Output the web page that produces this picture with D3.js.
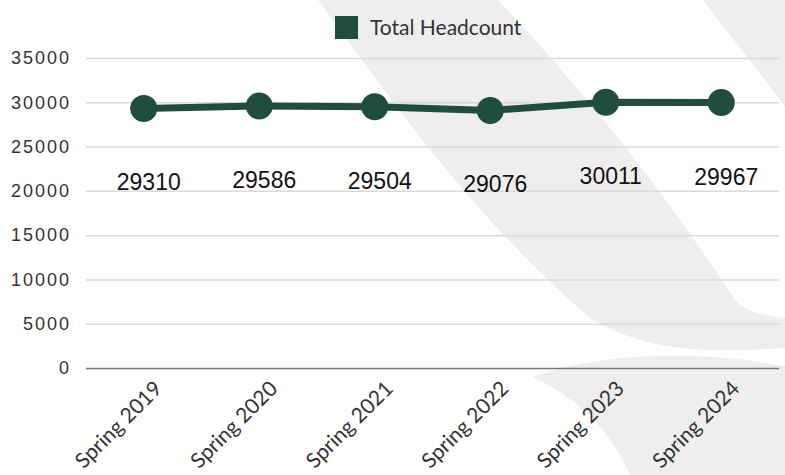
<!DOCTYPE html>
<html>
<head>
<meta charset="utf-8">
<script src="https://cdn.jsdelivr.net/npm/d3@7"></script>
<style>
    html, body { margin: 0; padding: 0; background: #ffffff; }
    svg { display: block; }
</style>
</head>
<body>
<div id="chart"></div>
<script>
var categories = ["Spring 2019", "Spring 2020", "Spring 2021", "Spring 2022", "Spring 2023", "Spring 2024"];
var headcount = [29310, 29586, 29504, 29076, 30011, 29967];
var yTicks = [0, 5000, 10000, 15000, 20000, 25000, 30000, 35000];
var seriesName = "Total Headcount";

var width = 785, height = 475;
var margin = { top: 58, right: 6, bottom: 107, left: 86 };
var green = "#1f4e3d";

var svg = d3.select("#chart").append("svg")
    .attr("width", width)
    .attr("height", height);

// decorative background swooshes
var swooshes = [
    "M318,0 C385,90 465,210 590,318 C650,355 720,352 785,348 L785,318 C765,316 745,312 735,300 C715,270 640,150 498,0 Z",
    "M703,0 L785,0 L785,107 C760,72 730,36 703,0 Z",
    "M533,377 C600,352 700,350 785,366 L785,475 L630,475 C610,430 580,400 533,377 Z"
];
svg.append("g").selectAll("path")
    .data(swooshes)
  .enter()
    .append("path")
    .attr("d", function(d) { return d; })
    .attr("fill", "#eeeeee");

var x = d3.scalePoint()
    .domain(categories)
    .range([margin.left, width - margin.right])
    .padding(0.5);

var y = d3.scaleLinear()
    .domain([0, 35000])
    .range([height - margin.bottom, margin.top]);

var plotWidth = width - margin.right - margin.left;

// y axis with grid lines
var yAxis = svg.append("g")
    .attr("transform", "translate(" + margin.left + ",0)")
    .call(d3.axisLeft(y)
        .tickValues(yTicks)
        .tickSize(-plotWidth)
        .tickPadding(15)
        .tickFormat(d3.format("d")));

yAxis.select(".domain").remove();
yAxis.selectAll(".tick line")
    .attr("stroke", function(d) { return d === 0 ? "#777777" : "#d9d9d9"; })
    .attr("stroke-width", 1.5);
yAxis.selectAll(".tick text")
    .attr("fill", "#333333")
    .style("font-family", "'Liberation Sans', Arial, sans-serif")
    .style("font-size", "18px")
    .style("letter-spacing", "2px");

// x axis, rotated labels
var xAxis = svg.append("g")
    .attr("transform", "translate(0," + (height - margin.bottom) + ")")
    .call(d3.axisBottom(x).tickSize(0).tickPadding(0));

xAxis.select(".domain").remove();
xAxis.selectAll(".tick text")
    .attr("fill", "#333333")
    .attr("text-anchor", "end")
    .attr("dy", 0)
    .attr("y", 0)
    .attr("transform", "translate(19,22) rotate(-45)")
    .style("font-family", "Lato, sans-serif")
    .style("font-size", "21px");

// line + markers
var line = d3.line()
    .x(function(d, i) { return x(categories[i]); })
    .y(function(d) { return y(d); });

svg.append("path")
    .datum(headcount)
    .attr("d", line)
    .attr("fill", "none")
    .attr("stroke", green)
    .attr("stroke-width", 7);

svg.selectAll(".dot")
    .data(headcount)
  .enter()
    .append("circle")
    .attr("class", "dot")
    .attr("cx", function(d, i) { return x(categories[i]); })
    .attr("cy", function(d) { return y(d); })
    .attr("r", 13.5)
    .attr("fill", green);

// value labels below the points
svg.selectAll(".value-label")
    .data(headcount)
  .enter()
    .append("text")
    .attr("class", "value-label")
    .attr("x", function(d, i) { return x(categories[i]) + 5; })
    .attr("y", function(d) { return y(d) + 82; })
    .attr("text-anchor", "middle")
    .attr("fill", "#111111")
    .style("font-family", "'Liberation Sans', Arial, sans-serif")
    .style("font-size", "23px")
    .text(function(d) { return d; });

// legend
var legend = svg.append("g").attr("transform", "translate(335,16)");
legend.append("rect")
    .attr("width", 23)
    .attr("height", 23)
    .attr("fill", green);
legend.append("text")
    .attr("x", 35)
    .attr("y", 18.5)
    .attr("fill", "#333333")
    .style("font-family", "Lato, sans-serif")
    .style("font-size", "21px")
    .text(seriesName);
</script>
</body>
</html>
